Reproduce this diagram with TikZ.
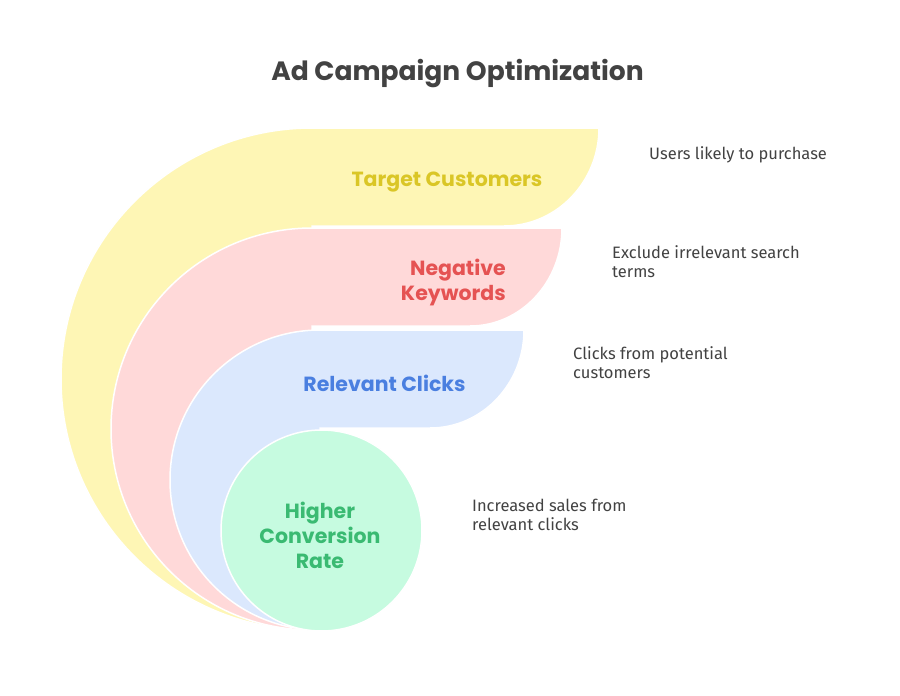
\documentclass[tikz,border=0pt]{standalone}
\usepackage{fontspec}
\usepackage{tikz}
\setmainfont{Fira Sans}
\newfontfamily\lblfont{Poppins}
\definecolor{yf}{RGB}{254, 246, 181}
\definecolor{yt}{RGB}{218, 198, 38}
\definecolor{rf}{RGB}{255, 217, 217}
\definecolor{rt}{RGB}{229, 83, 83}
\definecolor{bf}{RGB}{219, 232, 253}
\definecolor{bt}{RGB}{74, 127, 224}
\definecolor{gf}{RGB}{198, 251, 224}
\definecolor{gt}{RGB}{58, 186, 114}
\definecolor{tc}{RGB}{66, 66, 66}
\begin{document}
\begin{tikzpicture}[every node/.style={inner sep=0pt},
lbl/.style={font=\lblfont\bfseries\fontsize{20.5}{25}\selectfont},
desc/.style={anchor=west, align=left, text=tc, font=\fontsize{16.5}{19}\selectfont},
band/.style={draw=white, line width=1.5pt}]
\useasboundingbox (0pt, 0pt) rectangle (900pt, -696pt);
\fill [white] (0pt, 0pt) rectangle (900pt, -696pt);
\path [band, fill=yf] (312pt, -630pt) arc [start angle=270, end angle=90, radius=251pt] -- (599pt, -128pt) arc [start angle=0, end angle=-90, x radius=95pt, y radius=98pt] -- (312pt, -226pt) -- cycle;
\path [band, fill=rf] (312pt, -630pt) arc [start angle=270, end angle=90, radius=201pt] -- (562pt, -228pt) arc [start angle=0, end angle=-90, x radius=92pt, y radius=98pt] -- (312pt, -326pt) -- cycle;
\path [band, fill=bf] (320pt, -630pt) arc [start angle=270, end angle=90, radius=150pt] -- (524pt, -330pt) arc [start angle=0, end angle=-90, x radius=94pt, y radius=98pt] -- (320pt, -428pt) -- cycle;
\path [band, fill=gf] (321.5pt, -530.5pt) circle [radius=100.5pt];
\node (title) [text=tc, font=\lblfont\bfseries\fontsize{26.5}{30}\selectfont] at (457.5pt, -74pt) {Ad Campaign Optimization};
\node (1) [lbl, text=yt] at (447pt, -182pt) {Target Customers};
\node (2) [lbl, text=rt, align=right, anchor=east] at (506pt, -282.5pt) {Negative\\Keywords};
\node (3) [lbl, text=bt] at (384.5pt, -383pt) {Relevant Clicks};
\node (4) [lbl, text=gt, align=center] at (320pt, -535pt) {Higher\\Conversion\\Rate};
\node (d1) [desc] at (649pt, -155pt) {Users likely to purchase};
\node (d2) [desc] at (612pt, -262pt) {Exclude irrelevant search\\terms};
\node (d3) [desc] at (573pt, -363pt) {Clicks from potential\\customers};
\node (d4) [desc] at (472pt, -515pt) {Increased sales from\\relevant clicks};
\end{tikzpicture}
\end{document}
